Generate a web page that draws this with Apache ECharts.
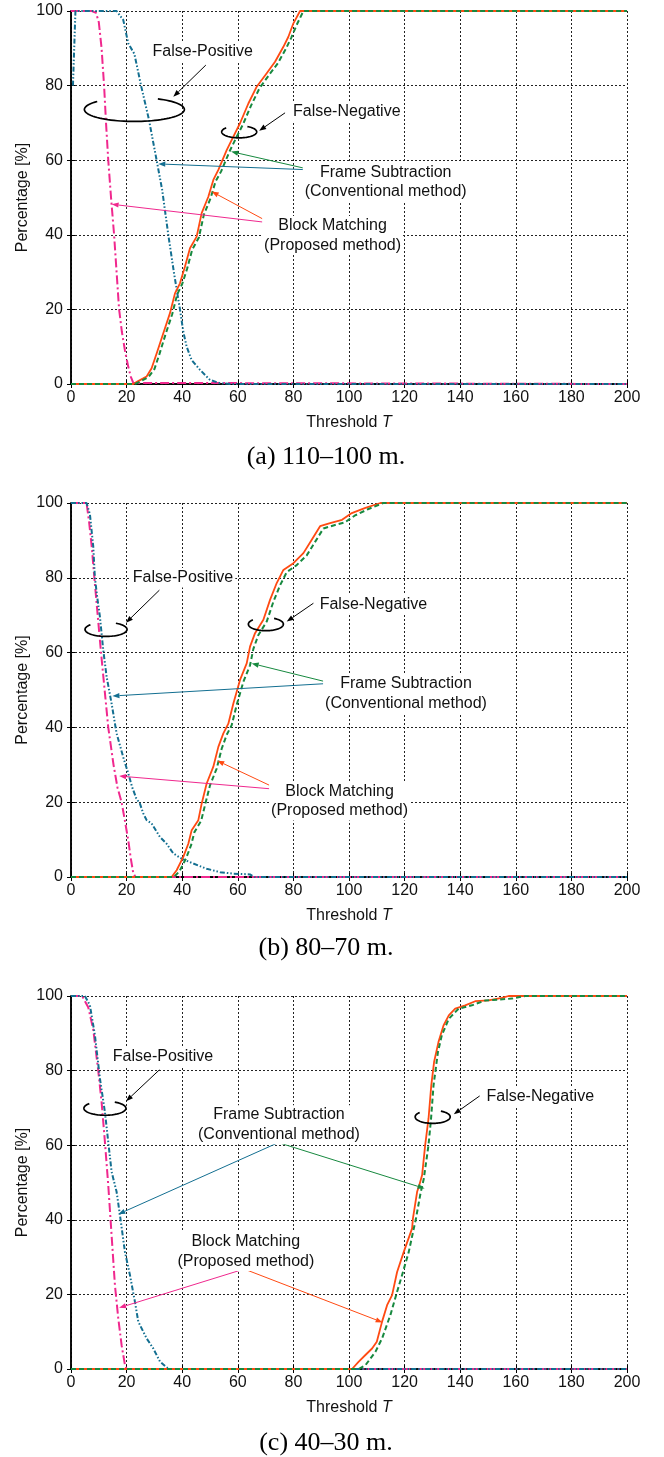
<!DOCTYPE html>
<html>
<head>
<meta charset="utf-8">
<script src="https://cdn.jsdelivr.net/npm/echarts@6/dist/echarts.min.js"></script>
<style>
  html, body { margin: 0; padding: 0; background: #fff; }
  #chart { width: 664px; height: 1457px; }
</style>
</head>
<body>
<div id="chart"></div>
<script>
// ---- data, [threshold T, percentage] ----
// (a) 110-100 m.
var aBmFp = [[0,100],[7.5,100],[9,99.5],[10,97],[11,90],[11.9,80],[12.6,70],[13.4,60],[14.4,50],[15.5,40],[16.4,30],[17.3,20],[18.3,14],[19.4,9],[20.6,4.6],[21.5,2],[22.4,0.3],[23,0],[200,0]];
var aFsFp = [[0.7,80],[1.6,100],[16.4,100],[18.8,97.6],[20.6,91.3],[22.8,88.5],[25.2,80],[28,71],[30.8,60],[32.8,52],[35,40],[37,30],[39.2,20],[40.4,14],[41.6,10],[43.4,6.4],[46.4,3.8],[50,1.1],[53.6,0.2],[58,0],[200,0]];
var aBmFn = [[0,0],[22.4,0],[24,0.7],[26,1.5],[27.2,2],[29,4.2],[30.8,8.2],[33.2,13.6],[35.6,19],[37.4,24.3],[39.2,27],[41,31.5],[42.8,36.4],[45.2,39.5],[47,45.8],[49.4,50.2],[51.2,54.7],[53,57.4],[56,62.7],[58.4,66.3],[60.8,69.9],[63.8,75.2],[66.8,79.7],[70.4,83.3],[73.4,86.4],[76.4,90.4],[78.2,93.1],[80,96.7],[82.4,100],[200,100]];
var aFsFn = [[0,0],[23,0],[25,0.7],[27,1.5],[28,2],[30,4],[31.8,8],[34,13.3],[36.4,18.7],[38.2,24],[40,26.8],[41.8,31],[43.6,36],[46,39.3],[47.8,45.4],[50.2,49.8],[52,54.3],[54,57],[57,62.3],[59.4,66],[61.8,69.5],[64.8,74.7],[67.8,79.3],[71.4,83],[74.4,86],[77.4,90],[79.2,92.8],[81.2,96.3],[83.6,100],[200,100]];

// (b) 80-70 m.
var bBmFp = [[0,100],[5.6,100],[6.5,95],[7.5,88],[8.4,80],[9.6,70],[10.8,60],[12.1,50],[13.4,40],[15.3,30],[16.7,24],[18.2,20],[19.4,15],[20.6,9.8],[21.5,5],[22.4,1],[23.2,0],[200,0]];
var bFsFp = [[0,100],[5.6,100],[6.8,97],[8,88.4],[8.6,80],[9.4,75],[10.4,69.6],[11.6,60.7],[12.8,53.6],[14.6,46.4],[16.4,38.4],[18.8,32],[20.6,27.7],[22,24],[23.5,21],[24.8,19.6],[26,17],[27.2,15.2],[29,14.3],[30.5,12.5],[32,10.7],[34.4,8.9],[36.8,6.3],[39.8,4.9],[44,3.6],[48.8,2.2],[53.6,1.3],[58.4,0.9],[64.4,0.7],[66,0],[200,0]];
var bBmFn = [[0,0],[36.2,0],[38,1.8],[40.4,5.4],[42.2,8.9],[43.4,12.5],[45.8,15.2],[47,19.6],[48.8,25],[51.2,29.5],[53,34.8],[54.8,38.4],[56.6,41],[58.4,46.4],[60.8,52.7],[63.2,57.1],[64.4,61.6],[66.2,65.2],[69.2,68.8],[71.6,74.1],[74,78.6],[76.4,82.1],[80,83.9],[83.6,86.6],[86.6,90.2],[89.6,93.8],[93.2,94.6],[97.5,95.5],[101,97.3],[105.9,98.7],[111.3,100],[200,100]];
var bFsFn = [[0,0],[37,0],[39,1.5],[41.4,5],[43.2,8.5],[44.4,12],[46.8,15],[48.2,19.2],[50,24.5],[52.4,29],[54.2,34.3],[56,38],[57.8,40.6],[59.6,46],[62,52.2],[64.4,56.6],[65.6,61],[67.4,64.7],[70.4,68.3],[72.8,73.6],[75.2,78],[77.6,81.5],[81.2,83.4],[84.8,86],[87.8,89.6],[90.8,93.2],[94.4,94],[98.5,94.8],[102,96.6],[107,98.4],[112.3,100],[200,100]];

// (c) 40-30 m.
var cBmFp = [[0,100],[4,100],[6.2,97],[8,91],[9.8,80],[11,71.6],[12.2,60.9],[13.4,49.3],[14.6,35.9],[15.8,22.5],[17,13.6],[18.2,6.4],[19.4,1.1],[20,0],[200,0]];
var cFsFp = [[0,100],[5,100],[6.8,97.5],[8.6,89.5],[10.4,77.9],[12.2,68.9],[13.4,60.9],[14.6,52.9],[16.4,47.5],[17.6,41.3],[19.4,31.4],[21.2,25.2],[23,18],[24.2,12.7],[27.2,8.2],[29.6,5.5],[32,2],[34.4,0.4],[35.6,0],[200,0]];
var cBmFn = [[0,0],[101.1,0],[103.5,2],[105.9,3.75],[108.3,5.5],[110,7.3],[111.9,12.7],[113.7,17.1],[115.5,19.8],[117.3,26],[119.7,31.4],[122.7,37.7],[123,40.4],[124.5,47.5],[125.3,49.3],[126.3,52],[127.4,60],[128.6,67.1],[129.6,76.1],[130.6,82.3],[132.2,87.7],[134,92.1],[135.9,94.8],[138.2,96.6],[141.8,97.5],[145.4,98.6],[150.2,98.8],[155,99.5],[157.4,100],[200,100]];
var cFsFn = [[0,0],[103.5,0],[105.9,1],[109.5,4.6],[111.9,8.2],[114.9,14.5],[117.3,20.7],[119.1,25.2],[121.5,31.4],[124.1,40.4],[125.7,47],[126.9,51],[128.6,60],[129.5,67],[130.4,76],[132,85],[133.4,89.5],[135.9,93.9],[139.4,96.6],[144.2,97.5],[149,98.8],[158.6,99.3],[163.4,100],[200,100]];

var captions = ['(a) 110\u2013100 m.', '(b) 80\u201370 m.', '(c) 40\u201330 m.'];
var fpLabel = 'False-Positive';
var fnLabel = 'False-Negative';
var fsLabel = 'Frame Subtraction\n(Conventional method)';
var bmLabel = 'Block Matching\n(Proposed method)';

// annotation anchors, in data units of each panel
var notes = [
  { fpText: [47.4, 89.1], fpArrow: [[48.5, 85.5], [36.8, 77.0]], fpLoop: [22.8, 73.6, 50, 12],
    fnText: [99.2, 73.0], fnArrow: [[77, 72.7], [67.7, 67.9]], fnLoop: [60.5, 67.6, 17.5, 6],
    fsText: [113.2, 54.1], fsFrom: [86.6, 57.4], fsTo: [[57.6, 62.3], [31.4, 59.0]],
    bmText: [94.1, 39.8], bmFrom: [71.6, 43.2], bmTo: [[50.6, 51.6], [14.6, 48.2]] },
  { fpText: [40.3, 80.0], fpArrow: [[31.8, 76.7], [19.8, 68.0]], fpLoop: [12.6, 66.2, 21, 7],
    fnText: [108.8, 72.9], fnArrow: [[87.2, 73.2], [77.6, 68.3]], fnLoop: [70.1, 67.6, 17.5, 6.5],
    fsText: [120.5, 49.0], fsFrom: [93.8, 51.8], fsTo: [[65.0, 57.1], [14.9, 48.4]],
    bmText: [96.6, 20.3], bmFrom: [74.6, 23.4], bmTo: [[52.6, 31.1], [17.3, 27.0]] },
  { fpText: [33.1, 83.7], fpArrow: [[31.8, 80.2], [19.8, 71.8]], fpLoop: [12.2, 69.9, 21, 7],
    fnText: [168.8, 73.0], fnArrow: [[147.0, 73.2], [137.7, 68.3]], fnLoop: [130.1, 67.6, 17.5, 6.5],
    fsText: [74.8, 65.5], fsFrom: [74.6, 60.7], fsTo: [[127.2, 48.4], [17.0, 41.5]],
    bmText: [62.9, 31.5], bmFrom: [62.3, 26.8], bmTo: [[112.1, 12.5], [17.3, 16.4]] }
];

var panels = [
  { top: 11,  height: 373, bmFp: aBmFp, fsFp: aFsFp, bmFn: aBmFn, fsFn: aFsFn, capY: 457 },
  { top: 503, height: 374, bmFp: bBmFp, fsFp: bFsFp, bmFn: bBmFn, fsFn: bFsFn, capY: 948 },
  { top: 996, height: 373, bmFp: cBmFp, fsFp: cFsFp, bmFn: cBmFn, fsFn: cFsFn, capY: 1443 }
];

var SANS = '"Liberation Sans", Arial, Helvetica, sans-serif';
var SERIF = '"Liberation Serif", "Times New Roman", serif';
var cMagenta = '#f0288e', cTeal = '#136f91', cOrange = '#ff4a12', cGreen = '#17893f';

var chart = echarts.init(document.getElementById('chart'));

var grids = [], xAxes = [], yAxes = [], series = [];
panels.forEach(function (p, i) {
  grids.push({ left: 71, width: 556, top: p.top, height: p.height, show: false });
  // main axes (bottom / left)
  xAxes.push({
    gridIndex: i, type: 'value', min: 0, max: 200, interval: 20,
    name: 'Threshold {i|T}', nameLocation: 'middle', nameGap: 31, nameMoveOverlap: false,
    nameTextStyle: { fontFamily: SANS, fontSize: 16, color: '#111',
      rich: { i: { fontFamily: SANS, fontSize: 16, fontStyle: 'italic', color: '#111' } } },
    axisLine: { show: true, lineStyle: { color: '#000', width: 1.5 } },
    axisTick: { show: true, inside: true, length: 4, lineStyle: { color: '#000' } },
    axisLabel: { fontFamily: SANS, fontSize: 16, color: '#111', margin: 6 },
    splitLine: { show: true, lineStyle: { color: '#222', type: [2, 2], width: 1 } }
  });
  // mirrored axes (top / right) carry only the inward ticks
  xAxes.push({
    gridIndex: i, type: 'value', min: 0, max: 200, interval: 20, position: 'top',
    axisLine: { show: true, lineStyle: { color: '#000', width: 1.5 } },
    axisTick: { show: true, inside: true, length: 4, lineStyle: { color: '#000' } },
    axisLabel: { show: false }, splitLine: { show: false }
  });
  yAxes.push({
    gridIndex: i, type: 'value', min: 0, max: 100, interval: 20,
    name: 'Percentage [%]', nameLocation: 'middle', nameGap: 40, nameMoveOverlap: false,
    nameTextStyle: { fontFamily: SANS, fontSize: 16, color: '#111' },
    axisLine: { show: true, lineStyle: { color: '#000', width: 1.5 } },
    axisTick: { show: true, inside: true, length: 4, lineStyle: { color: '#000' } },
    axisLabel: { fontFamily: SANS, fontSize: 16, color: '#111', margin: 8 },
    splitLine: { show: true, lineStyle: { color: '#222', type: [2, 2], width: 1 } }
  });
  yAxes.push({
    gridIndex: i, type: 'value', min: 0, max: 100, interval: 20, position: 'right',
    axisLine: { show: true, lineStyle: { color: '#000', width: 1.5 } },
    axisTick: { show: true, inside: true, length: 4, lineStyle: { color: '#000' } },
    axisLabel: { show: false }, splitLine: { show: false }
  });

  var base = { type: 'line', xAxisIndex: 2 * i, yAxisIndex: 2 * i, showSymbol: false,
    symbol: 'none', animation: false, silent: true };
  series.push(Object.assign({}, base, { name: 'BM FP', data: p.bmFp,
    lineStyle: { color: cMagenta, width: 2, type: [9, 3, 2, 3] } }));
  series.push(Object.assign({}, base, { name: 'FS FP', data: p.fsFp,
    lineStyle: { color: cTeal, width: 2, type: [5, 2, 1.5, 2, 1.5, 2] } }));
  series.push(Object.assign({}, base, { name: 'BM FN', data: p.bmFn,
    lineStyle: { color: cOrange, width: 1.8 } }));
  series.push(Object.assign({}, base, { name: 'FS FN', data: p.fsFn,
    lineStyle: { color: cGreen, width: 2, type: [5, 3] } }));
});

chart.setOption({
  animation: false,
  backgroundColor: '#fff',
  grid: grids,
  xAxis: xAxes,
  yAxis: yAxes,
  series: series
});

// ---- annotations (loops, arrows, labels) placed from data coords ----
function px(i, pt) {
  return chart.convertToPixel({ xAxisIndex: 2 * i, yAxisIndex: 2 * i }, pt);
}
function label(pos, txt, opt) {
  return {
    type: 'text', z: 110, silent: true,
    style: Object.assign({
      text: txt, x: pos[0], y: pos[1],
      align: 'center', verticalAlign: 'middle',
      textAlign: 'center', textVerticalAlign: 'middle',
      font: '16px ' + SANS, fill: '#111', lineHeight: 19.5,
      backgroundColor: '#fff', padding: [0, 2]
    }, opt || {})
  };
}
function arrow(a, b, color) {
  var dx = b[0] - a[0], dy = b[1] - a[1];
  var len = Math.sqrt(dx * dx + dy * dy);
  var ux = dx / len, uy = dy / len;
  var hl = 7, hw = 2.6;
  var bx = b[0] - ux * hl, by = b[1] - uy * hl;
  return [
    { type: 'line', z: 105, silent: true,
      shape: { x1: a[0], y1: a[1], x2: bx, y2: by },
      style: { stroke: color, lineWidth: 1 } },
    { type: 'polygon', z: 105, silent: true,
      shape: { points: [[b[0], b[1]], [bx - uy * hw, by + ux * hw], [bx + uy * hw, by - ux * hw]] },
      style: { fill: color } }
  ];
}
function loop(c, rx, ry) {
  var pts = [];
  for (var a = -62; a <= 222; a += 4) {
    var r = a * Math.PI / 180;
    pts.push([c[0] + rx * Math.cos(r), c[1] + ry * Math.sin(r)]);
  }
  return { type: 'polyline', z: 105, silent: true, shape: { points: pts },
    style: { stroke: '#000', lineWidth: 1.7, fill: null } };
}

var elements = [];
notes.forEach(function (n, i) {
  elements.push(label(px(i, n.fpText), fpLabel));
  elements = elements.concat(arrow(px(i, n.fpArrow[0]), px(i, n.fpArrow[1]), '#000'));
  elements.push(loop(px(i, n.fpLoop.slice(0, 2)), n.fpLoop[2], n.fpLoop[3]));

  elements.push(label(px(i, n.fnText), fnLabel));
  elements = elements.concat(arrow(px(i, n.fnArrow[0]), px(i, n.fnArrow[1]), '#000'));
  elements.push(loop(px(i, n.fnLoop.slice(0, 2)), n.fnLoop[2], n.fnLoop[3]));

  elements.push(label(px(i, n.fsText), fsLabel));
  elements = elements.concat(arrow(px(i, n.fsFrom), px(i, n.fsTo[0]), cGreen));
  elements = elements.concat(arrow(px(i, n.fsFrom), px(i, n.fsTo[1]), cTeal));

  elements.push(label(px(i, n.bmText), bmLabel));
  elements = elements.concat(arrow(px(i, n.bmFrom), px(i, n.bmTo[0]), cOrange));
  elements = elements.concat(arrow(px(i, n.bmFrom), px(i, n.bmTo[1]), cMagenta));

  elements.push(label([326, panels[i].capY], captions[i],
    { font: '26px ' + SERIF, fill: '#000', backgroundColor: 'transparent', padding: 0 }));
});

chart.setOption({ graphic: { elements: elements } });
</script>
</body>
</html>
